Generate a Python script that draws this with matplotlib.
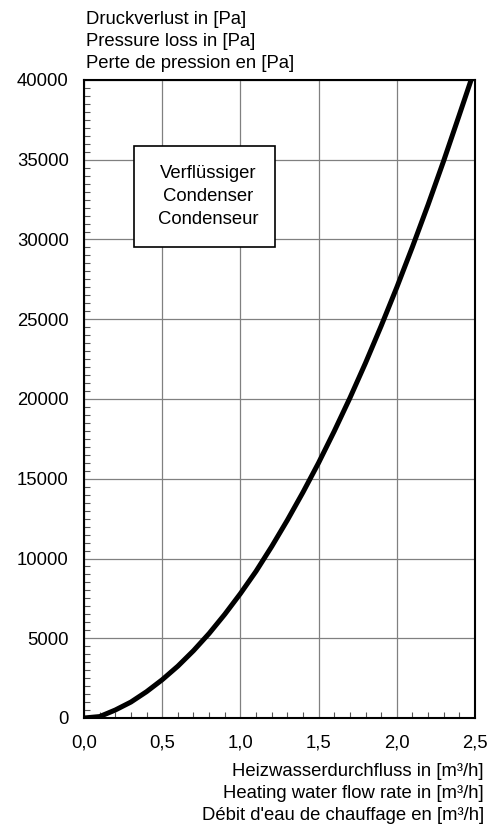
import matplotlib
matplotlib.use("Agg")
import matplotlib.pyplot as plt
from matplotlib.patches import Rectangle
from matplotlib.ticker import MultipleLocator, FuncFormatter

plt.rcParams["font.family"] = ["Liberation Sans", "DejaVu Sans"]

# flow rate [m3/h] vs pressure loss [Pa]
flow = [0.0, 0.1, 0.2, 0.3, 0.4, 0.5, 0.6, 0.7, 0.8, 0.9, 1.0, 1.1, 1.2,
        1.3, 1.4, 1.5, 1.6, 1.7, 1.8, 1.9, 2.0, 2.1, 2.2, 2.3, 2.4, 2.475]
loss = [0, 90, 500, 1000, 1650, 2400, 3250, 4220, 5300, 6500, 7800, 9200,
        10750, 12400, 14150, 16000, 17980, 20060, 22260, 24580, 27000,
        29540, 32180, 34940, 37820, 40000]

ylabel_lines = ["Druckverlust in [Pa]", "Pressure loss in [Pa]",
                "Perte de pression en [Pa]"]
xlabel_lines = ["Heizwasserdurchfluss in [m³/h]",
                "Heating water flow rate in [m³/h]",
                "Débit d'eau de chauffage en [m³/h]"]
box_lines = ["Verflüssiger", "Condenser", "Condenseur"]

FS = 13.3
W, H = 495, 827
fig = plt.figure(figsize=(W / 100, H / 100), dpi=100)
ax = fig.add_axes([84 / W, 1 - 718 / H, 391 / W, 638 / H])

ax.plot(flow, loss, color="black", lw=3.6, solid_capstyle="butt", zorder=3)

ax.set_xlim(0, 2.5)
ax.set_ylim(0, 40000)
ax.xaxis.set_major_locator(MultipleLocator(0.5))
ax.xaxis.set_minor_locator(MultipleLocator(0.1))
ax.yaxis.set_major_locator(MultipleLocator(5000))
ax.yaxis.set_minor_locator(MultipleLocator(500))
ax.xaxis.set_major_formatter(FuncFormatter(lambda v, p: f"{v:.1f}".replace(".", ",")))
ax.yaxis.set_major_formatter(FuncFormatter(lambda v, p: f"{v:.0f}"))
ax.tick_params(which="major", length=0, labelsize=FS)
ax.tick_params(axis="y", which="major", pad=11)
ax.tick_params(axis="x", which="major", pad=12)
ax.tick_params(which="minor", direction="in", length=4, width=0.8, color="#555555")
ax.grid(which="major", color="#808080", lw=0.9)
for s in ax.spines.values():
    s.set_linewidth(1.5)
    s.set_zorder(4)

for i, t in enumerate(ylabel_lines):
    fig.text(86 / W, 1 - (20 + 21.5 * i) / H, t, fontsize=FS, ha="left", va="center")
for i, t in enumerate(xlabel_lines):
    fig.text(484 / W, 1 - (772 + 21.5 * i) / H, t, fontsize=FS, ha="right", va="center")

x0, x1 = (134 - 84) / 391, (275 - 84) / 391
y0, y1 = (718 - 247) / 638, (718 - 146) / 638
ax.add_patch(Rectangle((x0, y0), x1 - x0, y1 - y0, transform=ax.transAxes,
                       facecolor="white", edgecolor="black", lw=1.2, zorder=5))
for i, t in enumerate(box_lines):
    ax.text((x0 + x1) / 2 + 0.01, (718 - 174 - 22.5 * i) / 638, t, transform=ax.transAxes,
            fontsize=FS, ha="center", va="center", zorder=6)

fig.savefig("out.png", dpi=100)
